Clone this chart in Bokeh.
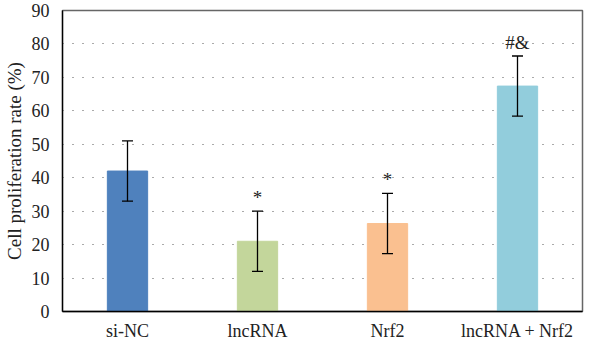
from bokeh.plotting import figure
from bokeh.models import ColumnDataSource, Whisker, TeeHead, FixedTicker, Range1d
from bokeh.core.properties import value
from bokeh.embed import file_html
from bokeh.resources import INLINE

categories = ["si-NC", "lncRNA", "Nrf2", "lncRNA + Nrf2"]
rates = [42.0, 21.0, 26.3, 67.4]
errors = [9.0, 9.0, 9.0, 9.0]
marks = ["", "*", "*", "#&"]
colors = ["#4F81BD", "#C3D69B", "#FAC090", "#92CDDC"]
y_ticks = [0, 10, 20, 30, 40, 50, 60, 70, 80, 90]

upper = [r + e for r, e in zip(rates, errors)]
lower = [r - e for r, e in zip(rates, errors)]
mark_y = [u + 1.0 for u in upper]

src = ColumnDataSource(dict(cat=categories, rate=rates, upper=upper, lower=lower,
                            color=colors, mark=marks, mark_y=mark_y))

FONT = "Liberation Serif"

p = figure(x_range=categories, width=584, height=343, output_backend="svg",
           toolbar_location=None, min_border_left=55, min_border_right=2,
           min_border_top=10, min_border_bottom=21)
p.y_range = Range1d(0, 90)

p.vbar(x="cat", top="rate", width=0.31, color="color", source=src)

w = Whisker(base="cat", upper="upper", lower="lower", source=src,
            line_color="black", line_width=1.3, level="overlay",
            upper_head=TeeHead(size=11, line_color="black", line_width=1.3),
            lower_head=TeeHead(size=11, line_color="black", line_width=1.3))
p.add_layout(w)

p.text(x="cat", y="mark_y", text="mark", source=src, text_align="center",
       text_baseline="bottom", text_font=value(FONT), text_font_size="19px",
       text_color="#222222")

p.yaxis.ticker = FixedTicker(ticks=y_ticks)
p.yaxis.axis_label = "Cell proliferation rate (%)"
p.yaxis.axis_label_text_font = FONT
p.yaxis.axis_label_text_font_style = "normal"
p.yaxis.axis_label_text_font_size = "19px"
p.yaxis.axis_label_text_color = "#222222"
p.yaxis.axis_label_standoff = 4

for ax in (p.xaxis, p.yaxis):
    ax.major_label_text_font = FONT
    ax.major_label_text_font_size = "18px"
    ax.major_label_text_color = "#222222"
    ax.axis_line_color = "black"
    ax.axis_line_width = 1.3
    ax.major_tick_line_color = None
    ax.minor_tick_line_color = None

p.xaxis.major_label_standoff = 3
p.yaxis.major_label_standoff = 7

p.xgrid.grid_line_color = None
p.ygrid.grid_line_color = "#555555"
p.ygrid.grid_line_dash = "1 9"
p.ygrid.grid_line_width = 1.2

p.outline_line_color = "#666666"
p.outline_line_width = 1.5
p.background_fill_color = "white"
p.border_fill_color = "white"

open("out.html", "w").write(file_html(p, INLINE))
